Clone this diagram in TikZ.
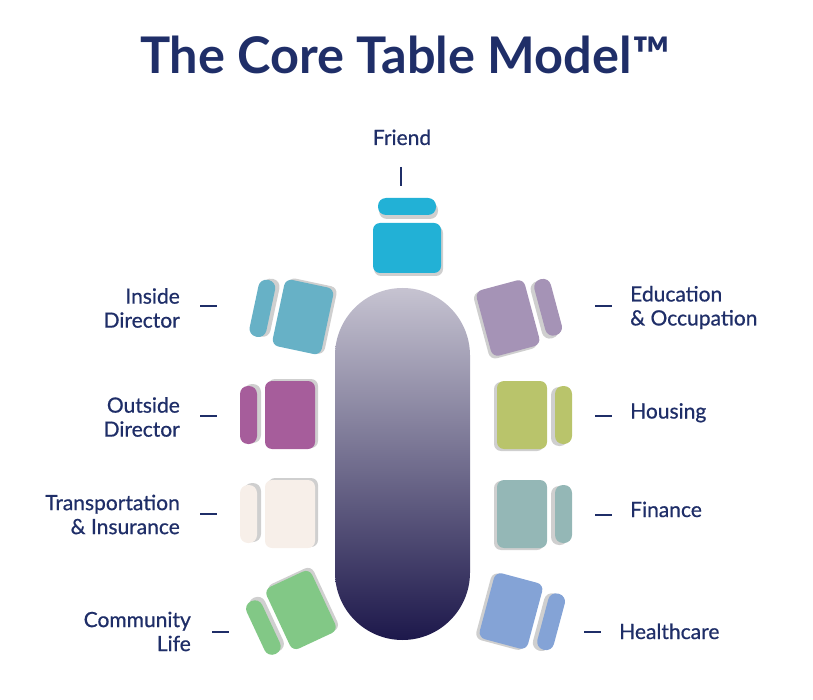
\documentclass[tikz,border=0pt]{standalone}
\usepackage{fontspec}
\setmainfont{Lato}
\newfontfamily\lblfont{Lato}[FakeBold=0.7]

\definecolor{navy}{HTML}{1F2E68}
\definecolor{shadegray}{HTML}{CFCFCF}
\definecolor{tabletop}{HTML}{C6C3D1}
\definecolor{tablebottom}{HTML}{1D184B}
\definecolor{friendc}{HTML}{22B1D6}
\definecolor{insidec}{HTML}{67B1C6}
\definecolor{outsidec}{HTML}{A65D9B}
\definecolor{transc}{HTML}{F7EFE9}
\definecolor{communityc}{HTML}{82C886}
\definecolor{educationc}{HTML}{A593B6}
\definecolor{housingc}{HTML}{B9C46B}
\definecolor{financec}{HTML}{94B7B6}
\definecolor{healthc}{HTML}{84A3D6}

\tikzset{
  lbl/.style={text=navy, font=\lblfont\fontsize{21}{24}\selectfont, inner sep=0pt},
  tick/.style={draw=navy, line width=2.8pt},
}

% seat x, seat y, angle, colour
\newcommand{\chair}[4]{%
  \begin{scope}[shift={(#1,#2)}, rotate=#3]
    \fill[shadegray, rounded corners=8pt] (-28,-46) rectangle (31,-29);
    \fill[#4, rounded corners=8pt] (-29,-50) rectangle (29,-33);
    \fill[shadegray, rounded corners=7pt] (-33,-22) rectangle (36,28);
    \fill[#4, rounded corners=7pt] (-34,-25) rectangle (34,25);
  \end{scope}}

\begin{document}
\begin{tikzpicture}[x=1pt,y=-1pt]
\useasboundingbox (0,0) rectangle (813,700);

\node[text=navy, font=\fontsize{50.5}{54}\bfseries\selectfont](title) at (405,55){The Core Table Model™};

\node[minimum width=135pt, minimum height=352pt, rounded corners=67.5pt,
      top color=tabletop, bottom color=tablebottom](table) at (402.5,464){};

\chair{407}{248}{0}{friendc}
\chair{303}{317}{78}{insidec}
\chair{290}{415}{90}{outsidec}
\chair{290}{514}{90}{transc}
\chair{301}{610}{115}{communityc}
\chair{508}{318}{-75}{educationc}
\chair{522}{415}{-90}{housingc}
\chair{522}{514}{-90}{financec}
\chair{511}{611}{-105}{healthc}

\node[lbl, anchor=base](friend) at (402,145){Friend};
\coordinate (f1) at (401,167);
\coordinate (f2) at (401,186);
\draw[tick] (f1) -- (f2);

\node[lbl, anchor=east, align=right](inside) at (180,308){Inside\\Director};
\node[lbl, anchor=east, align=right](outside) at (180,417){Outside\\Director};
\node[lbl, anchor=east, align=right](transport) at (180,514.5){Transportation\\\& Insurance};
\node[lbl, anchor=east, align=right](community) at (191,631.5){Community\\Life};

\node[lbl, anchor=west, align=left](education) at (630,307.5){Education\\\& Occupation};
\node[lbl, anchor=base west](housing) at (630,418.5){Housing};
\node[lbl, anchor=base west](finance) at (630,517){Finance};
\node[lbl, anchor=base west](health) at (619,639){Healthcare};

\draw[tick] ([xshift=20pt]inside.east |- 0,306) -- ++(17,0);
\draw[tick] ([xshift=20pt]outside.east |- 0,416) -- ++(17,0);
\draw[tick] ([xshift=20pt]transport.east |- 0,514) -- ++(17,0);
\draw[tick] ([xshift=21pt]community.east |- 0,632) -- ++(17,0);
\draw[tick] ([xshift=-35pt]education.west |- 0,306) -- ++(17,0);
\draw[tick] ([xshift=-35pt]housing.west |- 0,416) -- ++(17,0);
\draw[tick] ([xshift=-35pt]finance.west |- 0,515) -- ++(17,0);
\draw[tick] ([xshift=-35pt]health.west |- 0,632) -- ++(17,0);
\end{tikzpicture}
\end{document}
